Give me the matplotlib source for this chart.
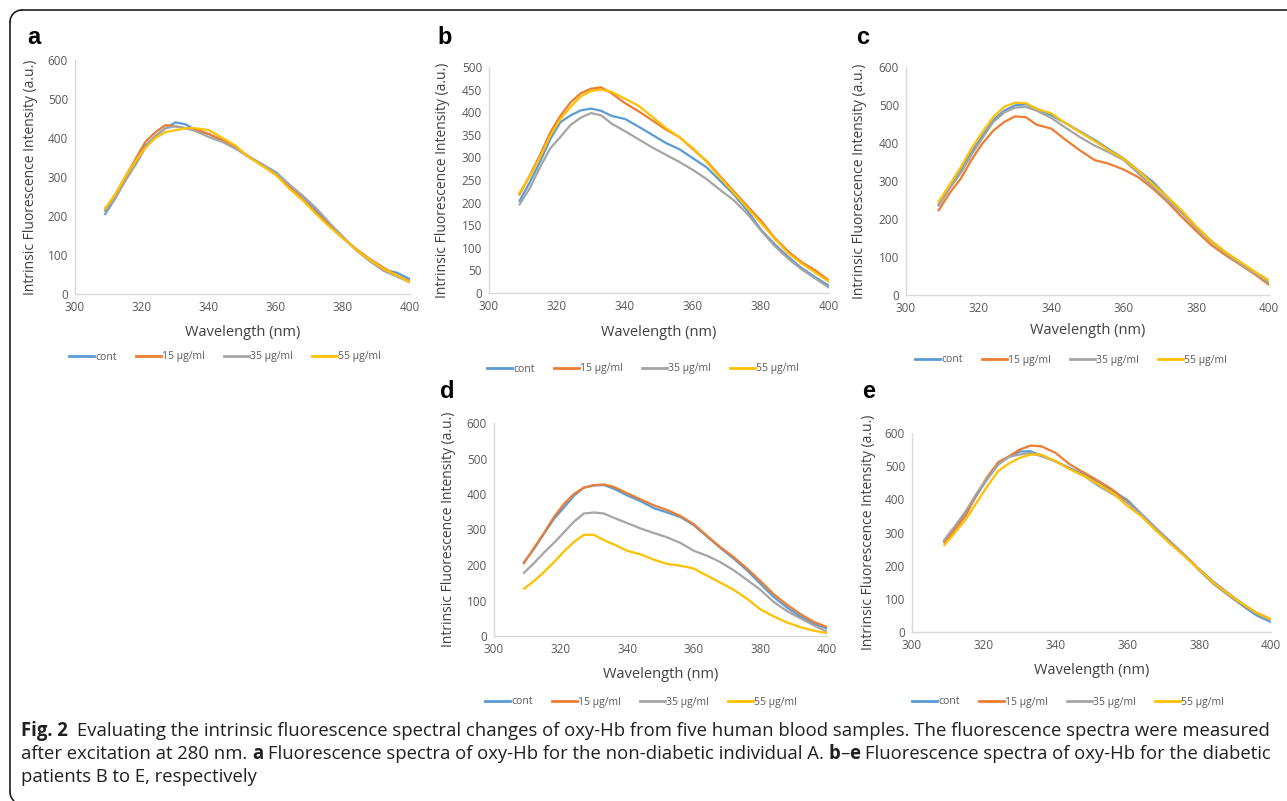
import matplotlib
matplotlib.use("Agg")
import matplotlib.pyplot as plt
from matplotlib.lines import Line2D
import numpy as np

W, H = 1287, 801

# wavelength grid (nm)
wl = [309, 312, 315, 318, 321, 324, 327, 330, 333, 336, 340, 344, 348,
      352, 356, 360, 364, 368, 372, 376, 380, 384, 388, 392, 396, 400]

series_names = ["cont", "15 µg/ml", "35 µg/ml", "55 µg/ml"]
colors = ["#5B9BD5", "#ED7D31", "#A5A5A5", "#FFC000"]

# panel a - non-diabetic individual A
a_cont = [205, 245, 295, 335, 380, 405, 425, 440, 435, 420, 410, 392, 375,
          350, 332, 312, 280, 250, 215, 178, 145, 112, 85, 62, 55, 38]
a_15 = [215, 255, 300, 345, 390, 415, 433, 430, 425, 422, 410, 395, 375,
        352, 330, 305, 275, 242, 208, 175, 143, 115, 90, 68, 48, 32]
a_35 = [213, 245, 290, 330, 375, 405, 425, 430, 425, 418, 402, 390, 372,
        352, 332, 310, 280, 252, 220, 182, 147, 112, 85, 60, 45, 30]
a_55 = [220, 255, 300, 340, 375, 400, 415, 420, 425, 425, 420, 400, 380,
        350, 328, 305, 270, 240, 205, 172, 143, 113, 88, 65, 48, 30]

# panel b
b_cont = [204, 245, 290, 340, 378, 393, 404, 408, 403, 392, 385, 368, 350,
          332, 318, 298, 278, 248, 218, 182, 140, 108, 80, 55, 35, 16]
b_15 = [218, 260, 305, 355, 392, 422, 442, 452, 455, 442, 420, 402, 382,
        362, 345, 318, 292, 258, 225, 192, 160, 122, 92, 68, 50, 28]
b_35 = [196, 232, 278, 320, 345, 372, 388, 398, 393, 375, 358, 340, 322,
        306, 290, 272, 252, 228, 205, 175, 138, 104, 76, 52, 32, 12]
b_55 = [222, 258, 300, 348, 385, 412, 435, 447, 450, 445, 430, 414, 390,
        365, 345, 320, 290, 255, 222, 188, 155, 120, 88, 65, 45, 25]

# panel c
c_cont = [236, 282, 325, 375, 418, 460, 485, 499, 502, 490, 473, 452, 430,
          408, 383, 359, 328, 298, 258, 220, 179, 143, 113, 85, 60, 38]
c_15 = [223, 268, 305, 355, 398, 432, 455, 470, 468, 448, 438, 408, 380,
        355, 345, 330, 310, 280, 245, 205, 168, 132, 105, 80, 55, 27]
c_35 = [238, 280, 320, 368, 412, 455, 480, 493, 495, 485, 466, 440, 415,
        393, 375, 355, 320, 285, 250, 215, 175, 140, 110, 82, 58, 32]
c_55 = [245, 290, 335, 385, 428, 468, 495, 506, 505, 490, 478, 452, 428,
        405, 380, 358, 328, 292, 258, 222, 180, 143, 113, 88, 62, 38]

# panel d
d_cont = [208, 245, 288, 330, 362, 395, 418, 424, 425, 415, 396, 380, 360,
          348, 335, 312, 280, 248, 218, 185, 147, 110, 80, 55, 35, 21]
d_15 = [205, 248, 290, 335, 372, 400, 418, 425, 427, 420, 402, 385, 368,
        355, 338, 315, 282, 250, 222, 190, 155, 118, 88, 62, 40, 25]
d_35 = [178, 205, 235, 262, 292, 322, 345, 348, 345, 333, 318, 303, 290,
        278, 262, 240, 226, 208, 185, 158, 130, 96, 70, 50, 30, 12]
d_55 = [133, 155, 180, 208, 238, 265, 285, 285, 270, 258, 240, 230, 215,
        203, 198, 190, 170, 150, 130, 105, 75, 55, 38, 25, 15, 8]

# panel e
e_cont = [274, 315, 358, 412, 462, 505, 528, 544, 545, 532, 514, 494, 474,
          452, 425, 398, 355, 313, 272, 230, 186, 145, 112, 80, 50, 30]
e_15 = [270, 310, 352, 415, 468, 512, 530, 550, 562, 560, 540, 505, 480,
        455, 428, 392, 350, 310, 268, 230, 188, 148, 115, 85, 58, 38]
e_35 = [278, 320, 365, 418, 462, 505, 528, 535, 540, 530, 515, 492, 470,
        440, 415, 390, 352, 312, 272, 232, 190, 152, 118, 86, 56, 35]
e_55 = [262, 300, 340, 390, 440, 485, 508, 525, 535, 535, 515, 490, 470,
        445, 418, 380, 348, 305, 265, 228, 188, 148, 115, 85, 58, 38]

x_ticks = [300, 320, 340, 360, 380, 400]

fig = plt.figure(figsize=(W / 100, H / 100), dpi=100)
fig.patch.set_facecolor("white")

TICK_FONT = "Open Sans"
GREY_TXT = "#595959"


def px_box(left, right, top, bottom):
    return [left / W, 1 - bottom / H, (right - left) / W, (bottom - top) / H]


def draw_panel(box, data, ymax, ystep, letter, letter_xy, ylab_x, xlab_y, leg_xy):
    ax = fig.add_axes(px_box(*box))
    for vals, col, name in zip(data, colors, series_names):
        ax.plot(wl, vals, color=col, lw=1.6, label=name)
    ax.set_xlim(300, 400)
    ax.set_ylim(0, ymax)
    ax.set_xticks(x_ticks)
    ax.set_yticks(list(range(0, ymax + 1, ystep)))
    for s in ["top", "right"]:
        ax.spines[s].set_visible(False)
    for s in ["left", "bottom"]:
        ax.spines[s].set_color("#D9D9D9")
        ax.spines[s].set_linewidth(1.0)
    ax.tick_params(length=0, labelsize=8.5, labelcolor=GREY_TXT, pad=5)
    for lab in ax.get_xticklabels() + ax.get_yticklabels():
        lab.set_family(TICK_FONT)

    left, right, top, bottom = box
    fig.text(letter_xy[0] / W, 1 - letter_xy[1] / H, letter, fontsize=17,
             fontweight="bold", family="Liberation Sans", ha="left", va="center")
    fig.text(ylab_x / W, 1 - (top + bottom) / 2 / H,
             "Intrinsic Fluorescence Intensity (a.u.)", rotation=90,
             fontsize=10, family=TICK_FONT, color="#404040", ha="center", va="center")
    fig.text((left + right) / 2 / W, 1 - xlab_y / H, "Wavelength (nm)",
             fontsize=10.5, family=TICK_FONT, color="#404040", ha="center", va="center")

    handles = [Line2D([], [], color=c, lw=2) for c in colors]
    fig.legend(handles, series_names, loc="center", ncol=4, frameon=False,
               bbox_to_anchor=(leg_xy[0] / W, 1 - leg_xy[1] / H),
               prop={"family": TICK_FONT, "size": 7.5}, labelcolor=GREY_TXT,
               handlelength=2.4, handletextpad=0.15, columnspacing=1.8)
    return ax


draw_panel((75, 410, 60, 294), [a_cont, a_15, a_35, a_55], 600, 100,
           "a", (27, 37), 30, 332, (225, 357))
draw_panel((489, 829, 67, 293), [b_cont, b_15, b_35, b_55], 500, 50,
           "b", (437, 37), 443, 332, (643, 369))
draw_panel((906, 1269, 67, 295), [c_cont, c_15, c_35, c_55], 600, 100,
           "c", (856, 37), 860, 330, (1071, 360))
draw_panel((494, 827, 423, 636), [d_cont, d_15, d_35, d_55], 600, 100,
           "d", (440, 392), 448, 674, (641, 702))
draw_panel((912, 1271, 433, 632), [e_cont, e_15, e_35, e_55], 600, 100,
           "e", (862, 392), 868, 670, (1068, 702))

# frame around the figure (top and left edge, rounded corners)
FRAME = "#231F20"
fig.add_artist(Line2D([10 / W, 10 / W], [1 - 792 / H, 1 - 22 / H],
                      transform=fig.transFigure, color=FRAME, lw=1.2))
fig.add_artist(Line2D([22 / W, 1.0], [1 - 10 / H, 1 - 10 / H],
                      transform=fig.transFigure, color=FRAME, lw=1.2))
t = np.linspace(np.pi / 2, np.pi, 20)
fig.add_artist(Line2D((22 + 12 * np.cos(t)) / W, 1 - (22 - 12 * np.sin(t)) / H,
                      transform=fig.transFigure, color=FRAME, lw=1.2))
t = np.linspace(np.pi, 1.25 * np.pi, 10)
fig.add_artist(Line2D((22 + 12 * np.cos(t)) / W, 1 - (792 - 12 * np.sin(t)) / H,
                      transform=fig.transFigure, color=FRAME, lw=1.2))

# caption
CAP_FONT = ["Open Sans", "DejaVu Sans"]
caption = [
    [("Fig. 2", True), ("  Evaluating the intrinsic fluorescence spectral changes of oxy-Hb from five human blood samples. The fluorescence spectra were measured", False)],
    [("after excitation at 280 nm. ", False), ("a", True), (" Fluorescence spectra of oxy-Hb for the non-diabetic individual A. ", False),
     ("b", True), ("–", False), ("e", True), (" Fluorescence spectra of oxy-Hb for the diabetic", False)],
    [("patients B to E, respectively", False)],
]
renderer = fig.canvas.get_renderer()


def text_width(s, bold, size):
    tx = fig.text(0, 0, s, fontsize=size, family=CAP_FONT,
                  fontweight="bold" if bold else "normal")
    w = tx.get_window_extent(renderer).width
    tx.remove()
    return w


def run_width(line, size):
    total = 0
    sp = text_width("x x", False, size) - text_width("xx", False, size)
    for txt, bold in line:
        core = txt.strip(" ")
        total += (len(txt) - len(core)) * sp + text_width(core, bold, size)
    return total


# scale the caption so its first line runs across the frame like the reference
cap_size = 10 * 1248 / run_width(caption[0], 10)

for i, line in enumerate(caption):
    y = 731 + i * 23
    x = 21
    for txt, bold in line:
        lead = len(txt) - len(txt.lstrip(" "))
        trail = len(txt) - len(txt.rstrip(" "))
        core = txt.strip(" ")
        sp = text_width("x x", bold, cap_size) - text_width("xx", bold, cap_size)
        x += lead * sp
        fig.text(x / W, 1 - y / H, core, fontsize=cap_size, family=CAP_FONT,
                 fontweight="bold" if bold else "normal", color=FRAME,
                 ha="left", va="center")
        x += text_width(core, bold, cap_size) + trail * sp

fig.savefig("out.png", dpi=100, facecolor="white")
